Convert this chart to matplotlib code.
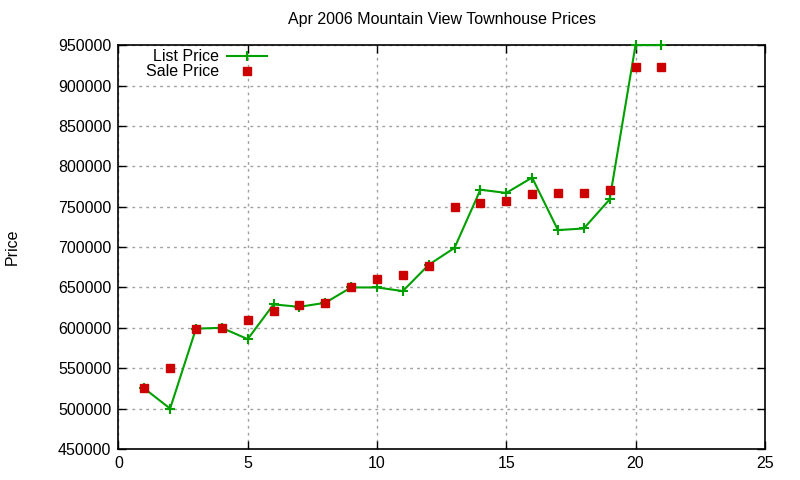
import matplotlib
matplotlib.use('Agg')
import matplotlib.pyplot as plt

# データ
house = [1, 2, 3, 4, 5, 6, 7, 8, 9, 10, 11, 12, 13, 14, 15, 16, 17, 18, 19, 20, 21]
list_price = [525000, 500000, 599000, 600000, 586000, 629000, 626000, 631000, 650000, 650000,
              645500, 678000, 699000, 771000, 767000, 786000, 721000, 723000, 759000, 950000, 950000]
sale_price = [525500, 550500, 598500, 600000, 610000, 621000, 628000, 631000, 650000, 661000,
              666000, 676500, 750000, 755000, 757000, 766000, 767000, 767000, 771000, 923000, 923000]

title = 'Apr 2006 Mountain View Townhouse Prices'
yticks = [450000, 500000, 550000, 600000, 650000, 700000, 750000, 800000, 850000, 900000, 950000]
xticks = [0, 5, 10, 15, 20, 25]

plt.rcParams['font.family'] = ['Liberation Sans', 'DejaVu Sans']
plt.rcParams['font.size'] = 11.5

fig = plt.figure(figsize=(8, 4.8), dpi=100)
ax = fig.add_axes([0.148, 0.0646, 0.808, 0.8414])

ax.plot(house, list_price, color='#00a000', lw=1.5, marker='+', ms=7, mew=1.5,
        label='List Price', clip_on=False, zorder=3)
ax.plot(house, sale_price, ls='none', color='#cc0000', marker='s', ms=5.6,
        label='Sale Price', clip_on=False, zorder=4)

ax.set_xlim(0, 25)
ax.set_ylim(450000, 950000)
ax.set_xticks(xticks)
ax.set_yticks(yticks)
ax.set_yticklabels([str(v) for v in yticks])
ax.tick_params(direction='in', top=True, right=True, length=6, width=1, pad=5)
ax.grid(True, color='#a0a0a0', ls=(0, (2, 3)), lw=1)
for s in ax.spines.values():
    s.set_linewidth(1.2)

# タイトルは自動位置だと凡例に押し上げられるので固定
ax.text(0.5, 1.063, title, transform=ax.transAxes, ha='center', va='center', fontsize=11.5)
ax.set_ylabel('Price')
ax.yaxis.set_label_coords(-0.152, 0.5)

# 凡例: テキストが左、サンプルが右(gnuplot風)
leg = ax.legend(loc='upper left', markerfirst=False, frameon=False,
                bbox_to_anchor=(0.043, 0.99), handlelength=2.5, handletextpad=0.5,
                labelspacing=0.0, borderaxespad=0.0, borderpad=0.0)

fig.savefig('out.png', dpi=100)
